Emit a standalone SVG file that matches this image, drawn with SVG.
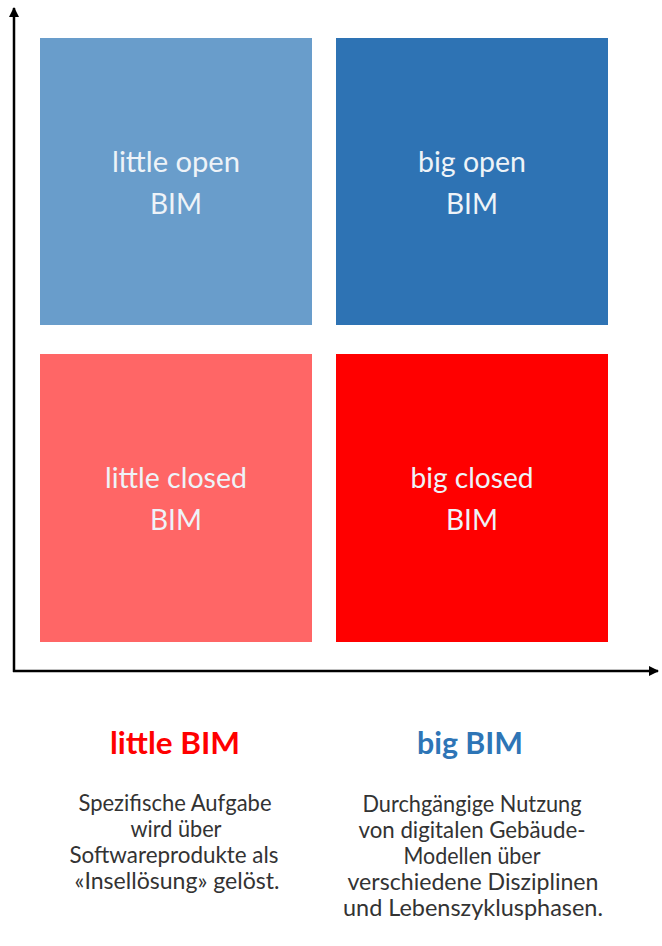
<svg xmlns="http://www.w3.org/2000/svg" width="662" height="946" viewBox="0 0 662 946">
<defs>
<marker id="arr" viewBox="0 0 10 10" refX="9" refY="5" markerWidth="10" markerHeight="10" markerUnits="userSpaceOnUse" orient="auto">
<path d="M0,0 L10,5 L0,10 z" fill="#000"/>
</marker>
</defs>
<style>
.box text{font-family:Lato,"Liberation Sans",sans-serif;font-size:28px;fill:#EEF3F8;text-anchor:middle}
.title{font-family:Lato,"Liberation Sans",sans-serif;font-size:30px;font-weight:bold;text-anchor:middle}
.desc{font-family:Lato,"Liberation Sans",sans-serif;font-size:23px;fill:#333;text-anchor:middle}
</style>
<rect width="662" height="946" fill="#fff"/>
<g id="little-open" class="box">
<rect x="40" y="38" width="272" height="287" fill="#699DCB"/>
<text x="176" y="172" textLength="128" lengthAdjust="spacingAndGlyphs">little open</text>
<text x="176" y="214">BIM</text>
</g>
<g id="big-open" class="box">
<rect x="336" y="38" width="272" height="287" fill="#2E73B4"/>
<text x="472" y="172" textLength="108" lengthAdjust="spacingAndGlyphs">big open</text>
<text x="472" y="214">BIM</text>
</g>
<g id="little-closed" class="box">
<rect x="40" y="354" width="272" height="288" fill="#FF6666"/>
<text x="176" y="488" textLength="142" lengthAdjust="spacingAndGlyphs">little closed</text>
<text x="176" y="530">BIM</text>
</g>
<g id="big-closed" class="box">
<rect x="336" y="354" width="272" height="288" fill="#FF0000"/>
<text x="472" y="488" textLength="123" lengthAdjust="spacingAndGlyphs">big closed</text>
<text x="472" y="530">BIM</text>
</g>
<g id="axes" stroke="#000" stroke-width="2.5" fill="none">
<line x1="14" y1="672" x2="14" y2="8" marker-end="url(#arr)"/>
<line x1="13" y1="671" x2="658" y2="671" marker-end="url(#arr)"/>
</g>
<g id="little-bim">
<text class="title" x="175" y="754" fill="#FF0000" textLength="130" lengthAdjust="spacingAndGlyphs">little BIM</text>
<text class="desc" x="175" y="811" textLength="193" lengthAdjust="spacingAndGlyphs">Spezifische Aufgabe</text>
<text class="desc" x="176" y="837" textLength="91" lengthAdjust="spacingAndGlyphs">wird über</text>
<text class="desc" x="174" y="863" textLength="209" lengthAdjust="spacingAndGlyphs">Softwareprodukte als</text>
<text class="desc" x="177" y="889" textLength="205" lengthAdjust="spacingAndGlyphs">«Insellösung» gelöst.</text>
</g>
<g id="big-bim">
<text class="title" x="470" y="754" fill="#2E75B6" textLength="106" lengthAdjust="spacingAndGlyphs">big BIM</text>
<text class="desc" x="472" y="812" textLength="219" lengthAdjust="spacingAndGlyphs">Durchgängige Nutzung</text>
<text class="desc" x="472" y="838" textLength="227" lengthAdjust="spacingAndGlyphs">von digitalen Gebäude-</text>
<text class="desc" x="472" y="864" textLength="137" lengthAdjust="spacingAndGlyphs">Modellen über</text>
<text class="desc" x="473" y="890" textLength="251" lengthAdjust="spacingAndGlyphs">verschiedene Disziplinen</text>
<text class="desc" x="473" y="916" textLength="260" lengthAdjust="spacingAndGlyphs">und Lebenszyklusphasen.</text>
</g>
</svg>
